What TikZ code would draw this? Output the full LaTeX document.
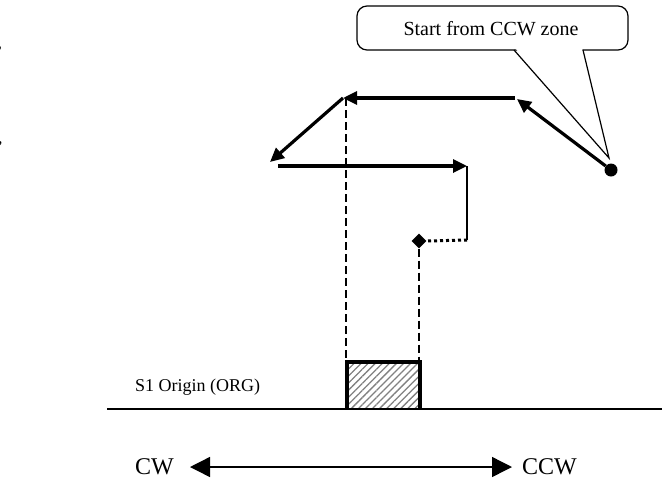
\documentclass[tikz,border=0pt]{standalone}
\usepackage{fontspec}
\setmainfont{Liberation Serif}
\usetikzlibrary{arrows.meta,shapes.geometric,patterns.meta}
\begin{document}
\begin{tikzpicture}[x=1pt,y=-1pt,
  thickline/.style={line width=3.2pt},
  thickarrow/.style={line width=3.2pt,-{Triangle[length=14pt,width=13pt]}},
  thinline/.style={line width=1.4pt},
  dashline/.style={line width=1.4pt,dash pattern=on 8pt off 4pt},
  dotline/.style={line width=3pt,dash pattern=on 3pt off 3pt},
  lbl/.style={inner sep=0pt,anchor=base west}]
\useasboundingbox (0,0) rectangle (671,477);
% stray marks at left edge
\node[lbl,font=\fontsize{18}{18}\selectfont] (m1) at (-2.5,48) {,};
\node[lbl,font=\fontsize{18}{18}\selectfont] (m2) at (-2,143) {,};
% callout
\coordinate (tipc) at (609,158);
\coordinate (tl) at (514,50);
\coordinate (tr) at (583,50);
\draw[line width=1.2pt,rounded corners=10pt,fill=white] (357,6) rectangle (628,50);
\fill[white] (515,48) -- (582,48) -- (tipc) -- cycle;
\draw[line width=1.2pt,line join=miter] (tl) -- (tipc) -- (tr);
\node[font=\fontsize{20}{20}\selectfont] (ct) at (491,29) {Start from CCW zone};
% path
\node[circle,fill=black,inner sep=0pt,minimum size=13pt] (dot) at (611,170) {};
\coordinate (a1) at (517,99);
\coordinate (a2) at (343,98);
\coordinate (a3) at (270,162);
\coordinate (b1) at (278,166);
\coordinate (b2) at (467,166);
\coordinate (c1) at (467,240);
\node[diamond,fill=black,inner sep=0pt,minimum size=15pt] (dia) at (419,241) {};
\draw[thickarrow] (dot) -- (a1);
\draw[thickarrow] (515,98) -- (a2);
\draw[thickarrow] (a2) -- (a3);
\draw[thickarrow] (b1) -- (b2);
\draw[thinline] (b2) -- (c1);
\draw[dotline] (c1) -- (dia.east);
% dashed verticals
\coordinate (d1) at (346,98);
\coordinate (d2) at (346,362);
\coordinate (d3) at (419,362);
\draw[dashline] (d1) -- (d2);
\draw[dashline] (dia.south) -- (d3);
% box
\draw[line width=3.5pt,pattern={Lines[angle=45,distance=5pt,line width=1.3pt]},pattern color=gray] (347,409) -- (347,362) -- (420,362) -- (420,409);
% baseline
\coordinate (g1) at (107,409);
\coordinate (g2) at (662,409);
\draw[line width=1.4pt] (g1) -- (g2);
\node[lbl,font=\fontsize{18}{18}\selectfont] (org) at (135,391) {S1 Origin (ORG)};
% direction arrow
\node[lbl,font=\fontsize{24}{24}\selectfont] (cw) at (135,474) {CW};
\node[lbl,font=\fontsize{24}{24}\selectfont] (ccw) at (522,474) {CCW};
\coordinate (e1) at (190,467);
\coordinate (e2) at (512,467);
\draw[line width=1.4pt,{Triangle[length=20pt,width=20pt]}-{Triangle[length=20pt,width=20pt]}] (e1) -- (e2);
\end{tikzpicture}
\end{document}
